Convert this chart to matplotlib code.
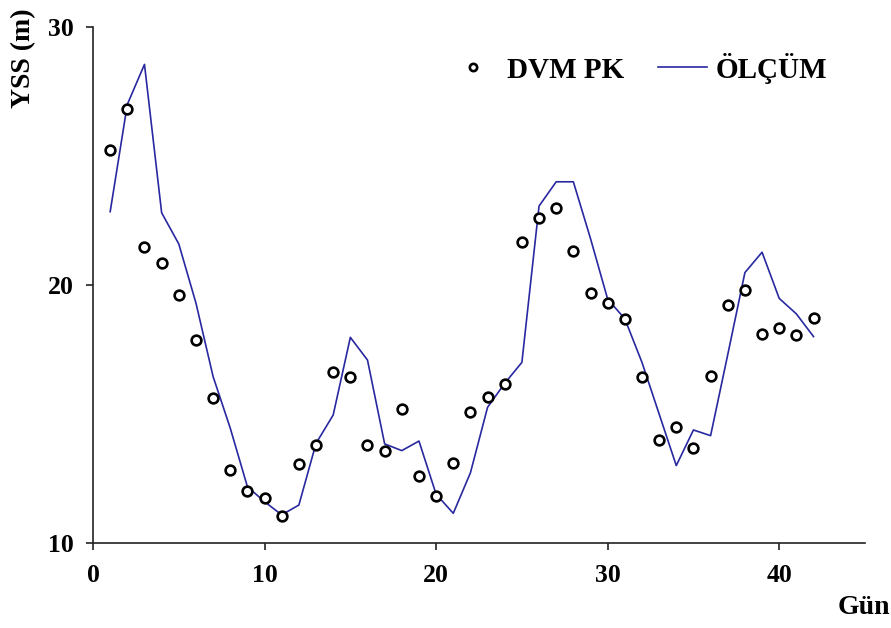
import matplotlib
matplotlib.use("Agg")
import matplotlib.pyplot as plt

# Day index
days = list(range(1, 43))

# DVM PK model estimates (m)
dvm_pk = [25.23, 26.82, 21.47, 20.85, 19.61, 17.87, 15.63, 12.84, 12.00, 11.73,
          11.05, 13.05, 13.79, 16.63, 16.42, 13.79, 13.58, 15.18, 12.60, 11.83,
          13.09, 15.08, 15.67, 16.18, 21.66, 22.59, 23.00, 21.32, 19.70, 19.31,
          18.67, 16.42, 14.01, 14.48, 13.69, 16.48, 19.21, 19.82, 18.11, 18.32,
          18.06, 18.72]

# Measured values, ÖLÇÜM (m)
olcum = [22.84, 27.00, 28.55, 22.80, 21.59, 19.30, 16.45, 14.45, 12.18, 11.60,
         11.09, 11.47, 13.86, 14.96, 17.97, 17.09, 13.84, 13.58, 13.95, 11.89,
         11.15, 12.72, 15.26, 16.19, 17.00, 23.06, 24.00, 24.00, 21.80, 19.45,
         18.69, 17.00, 15.00, 13.00, 14.38, 14.16, 17.30, 20.48, 21.27, 19.48,
         18.88, 18.00]

x_ticks = [0, 10, 20, 30, 40]
y_ticks = [10, 20, 30]

serif = ["Liberation Serif", "DejaVu Serif"]
plt.rcParams["font.family"] = serif
plt.rcParams["font.weight"] = "bold"

fig = plt.figure(figsize=(8.91, 6.28), dpi=100)
ax = fig.add_axes([0.1044, 0.1354, 0.8664, 0.8216])

ax.plot(days, dvm_pk, linestyle="none", marker="o", markersize=7,
        markerfacecolor="white", markeredgecolor="black", markeredgewidth=1.9,
        label="DVM PK", zorder=3)
ax.plot(days, olcum, color="#2828a0", linewidth=1.2, label="ÖLÇÜM", zorder=2)

ax.set_xlim(0, 45)
ax.set_ylim(10, 30)
ax.set_xticks(x_ticks)
ax.set_yticks(y_ticks)

for side in ("top", "right"):
    ax.spines[side].set_visible(False)
for side in ("left", "bottom"):
    ax.spines[side].set_linewidth(1.2)
    ax.spines[side].set_color("#222222")

ax.tick_params(axis="both", direction="out", length=5, width=1.2,
               color="#222222", labelsize=18.5)
ax.tick_params(axis="y", pad=9)
ax.tick_params(axis="x", pad=10)
for lab in ax.get_xticklabels() + ax.get_yticklabels():
    lab.set_fontweight("bold")

fig.text(24 / 891, 1 - 58 / 628, "YSS (m)", rotation=90, ha="center",
         va="center", fontsize=20, fontweight="bold")
fig.text(890 / 891, 1 - 608 / 628, "Gün", ha="right", va="center",
         fontsize=20, fontweight="bold")

leg = ax.legend(loc="center", bbox_to_anchor=(638 / 891, 1 - 68 / 628),
                bbox_transform=fig.transFigure, ncol=2, frameon=False,
                prop={"family": serif, "weight": "bold", "size": 21},
                markerscale=0.75, handlelength=1.7, handletextpad=0.3,
                columnspacing=1.15, borderpad=0, borderaxespad=0)

fig.savefig("out.png", dpi=100)
